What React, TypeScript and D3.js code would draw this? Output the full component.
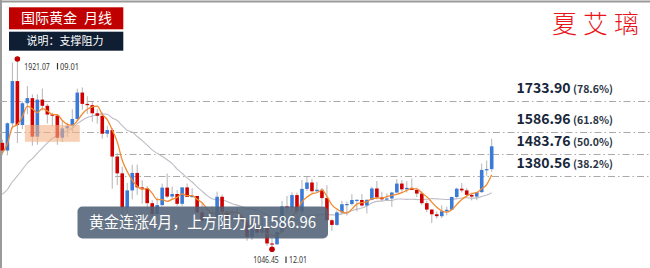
import React from 'react';
import * as d3 from 'd3';

// Monthly candles, Jun 2011 – Aug 2019
const months = [
  '2011-06','2011-07','2011-08','2011-09','2011-10','2011-11','2011-12',
  '2012-01','2012-02','2012-03','2012-04','2012-05','2012-06','2012-07','2012-08','2012-09','2012-10','2012-11','2012-12',
  '2013-01','2013-02','2013-03','2013-04','2013-05','2013-06','2013-07','2013-08','2013-09','2013-10','2013-11','2013-12',
  '2014-01','2014-02','2014-03','2014-04','2014-05','2014-06','2014-07','2014-08','2014-09','2014-10','2014-11','2014-12',
  '2015-01','2015-02','2015-03','2015-04','2015-05','2015-06','2015-07','2015-08','2015-09','2015-10','2015-11','2015-12',
  '2016-01','2016-02','2016-03','2016-04','2016-05','2016-06','2016-07','2016-08','2016-09','2016-10','2016-11','2016-12',
  '2017-01','2017-02','2017-03','2017-04','2017-05','2017-06','2017-07','2017-08','2017-09','2017-10','2017-11','2017-12',
  '2018-01','2018-02','2018-03','2018-04','2018-05','2018-06','2018-07','2018-08','2018-09','2018-10','2018-11','2018-12',
  '2019-01','2019-02','2019-03','2019-04','2019-05','2019-06','2019-07','2019-08',
];

const opens = [
  1536,1500,1628,1826,1620,1722,1746,
  1565,1739,1710,1669,1664,1560,1604,1615,1648,1772,1719,1713,
  1675,1663,1579,1596,1472,1393,1234,1313,1395,1327,1323,1253,
  1202,1244,1326,1284,1296,1250,1327,1282,1287,1210,1171,1183,
  1184,1283,1213,1183,1184,1190,1172,1095,1132,1115,1142,1064,
  1060,1118,1238,1233,1291,1215,1320,1350,1309,1316,1277,1173,
  1151,1210,1248,1249,1268,1268,1242,1269,1322,1280,1271,1275,
  1303,1345,1318,1325,1315,1298,1253,1223,1201,1192,1215,1222,
  1282,1321,1313,1292,1284,1305,1409,1413,
];
const highs = [
  1552,1632,1913,1921.07,1730,1803,1764,
  1764,1791,1719,1678,1670,1640,1631,1694,1790,1796,1755,1727,
  1694,1679,1617,1606,1488,1424,1348,1434,1434,1361,1333,1267,
  1280,1345,1392,1331,1315,1328,1345,1323,1287,1255,1208,1239,
  1307,1294,1219,1224,1232,1205,1175,1170,1157,1191,1142,1088,
  1123,1263,1287,1304,1303,1362,1375,1367,1352,1325,1337,1180,
  1220,1264,1261,1295,1270,1296,1270,1331,1357,1306,1299,1307,
  1366,1361,1356,1369,1326,1309,1265,1225,1214,1243,1237,1284,
  1326,1347,1324,1302,1306,1439,1453,1555,
];
const lows = [
  1478,1478,1605,1535,1600,1670,1523,
  1527,1688,1627,1613,1527,1540,1564,1583,1644,1692,1672,1635,
  1626,1555,1562,1321,1338,1180,1207,1271,1292,1251,1227,1182,
  1202,1240,1277,1268,1240,1240,1281,1280,1206,1161,1131,1167,
  1167,1191,1142,1175,1170,1162,1077,1080,1098,1106,1052,1046.45,
  1058,1107,1208,1207,1199,1200,1310,1301,1303,1241,1171,1123,
  1147,1200,1195,1241,1214,1237,1205,1267,1271,1261,1265,1236,
  1302,1307,1303,1315,1282,1245,1211,1160,1180,1183,1196,1221,
  1276,1303,1281,1266,1267,1301,1382,1400,
];
const closes = [
  1500,1628,1826,1620,1722,1746,1565,
  1739,1710,1669,1664,1560,1604,1615,1648,1772,1719,1713,1675,
  1663,1579,1596,1472,1393,1234,1313,1395,1327,1323,1253,1202,
  1244,1326,1284,1296,1250,1327,1282,1287,1210,1171,1183,1184,
  1283,1213,1183,1184,1190,1172,1095,1132,1115,1142,1064,1060,
  1118,1238,1233,1291,1215,1320,1350,1309,1316,1277,1173,1151,
  1210,1248,1249,1268,1269,1242,1269,1322,1280,1271,1275,1303,
  1345,1318,1325,1315,1298,1253,1223,1201,1192,1215,1222,1282,
  1321,1313,1292,1284,1305,1409,1413,1520,
];

// Moving averages (orange MA5, grey MA20)
const ma5 = [
  1488,1531.8,1609.2,1622,1659.2,1708.4,1695.8,
  1678.4,1696.4,1685.8,1669.4,1668.4,1641.4,1622.4,1618.2,1639.8,1671.6,1693.4,1705.4,
  1708.4,1669.8,1645.2,1597,1540.6,1454.8,1401.6,1361.4,1332.4,1318.4,1322.2,1300,
  1269.8,1269.6,1261.8,1270.4,1280,1296.6,1287.8,1288.4,1271.2,1255.4,1226.6,1207,
  1206.2,1206.8,1209.2,1209.4,1210.6,1188.4,1164.8,1154.6,1140.8,1131.2,1109.6,1102.6,
  1099.8,1124.4,1142.6,1188,1219,1259.4,1281.8,1297,1302,1314.4,1285,1245.2,
  1225.4,1211.8,1206.2,1225.2,1248.8,1255.2,1259.4,1274,1276.4,1276.8,1283.4,1290.2,
  1294.8,1302.4,1313.2,1321.2,1320.2,1301.8,1282.8,1258,1233.4,1216.8,1210.6,1222.4,
  1246.4,1270.6,1286,1298.4,1303,1320.6,1340.6,1386.2,
];
const ma20 = [
  1294.9,1317.2,1353.7,1380.7,1410.9,1442.5,1461.8,
  1488.1,1511.4,1535.8,1556.6,1569.2,1581.5,1593,1604.4,1626.4,1641.9,1655.6,1661.6,
  1667.9,1671.9,1670.3,1652.6,1641.2,1616.8,1595.2,1586.7,1566.1,1546.7,1525.9,1502.8,
  1487,1473.1,1456.6,1439,1412.9,1393.3,1371.7,1352.3,1329.7,1309.3,1288.6,1274.2,
  1268.7,1267.7,1261.2,1250.6,1243.8,1236.2,1228.3,1224.8,1218.4,1209.2,1198.2,1186.4,
  1179.8,1175.3,1172.9,1173.1,1173.3,1180.8,1189.1,1195.4,1197,1200.2,1199.7,1198.1,
  1199.1,1202.9,1210.6,1217.4,1225.1,1230.1,1240.3,1253.4,1261.5,1263.2,1265.3,1265.9,
  1272.4,1272.3,1271,1271.3,1270.4,1269.2,1271.7,1274.2,1273.3,1271.7,1270.3,1271,
  1273.6,1277.2,1278.3,1276.4,1277.7,1284.6,1291.5,1302.3,
];

// Fibonacci retracement levels (low 1046.45 → high 1921.07)
const fibLevels = [1733.90, 1586.96, 1483.76, 1380.56];
const fibLabels = ['1733.90', '1586.96', '1483.76', '1380.56'];
const fibPct = ['(78.6%)', '(61.8%)', '(50.0%)', '(38.2%)'];

const highValue = 1921.07;
const highLabel = '1921.07';
const highDate = '09.01';
const lowValue = 1046.45;
const lowLabel = '1046.45';
const lowDate = '12.01';

// consolidation zone (months spanned, price range)
const zoneMonths = ['2011-10', '2012-09'];
const zonePrices = [1541, 1620];

const titleText = '国际黄金\u2002月线';
const subtitleText = '说明：支撑阻力';
const authorText = '夏艾璃';
const noteText = '黄金连涨4月，上方阻力见1586.96';

const W = 650;
const H = 268;
const UP = '#3a7bd8';
const DOWN = '#d00000';
const WICK = '#b4b4b4';
const CJK = '"Noto Sans CJK SC", "Noto Sans", sans-serif';
const SMALL = '"Noto Sans", "Open Sans", sans-serif';

export default function App() {
  const n = months.length;
  const x = d3.scaleLinear().domain([0, n - 1]).range([2.4, 491.7]);
  const y = d3.scaleLinear().domain([fibLevels[3], fibLevels[0]]).range([176, 100.7]);
  const bodyW = 3.6;
  const step = x(1) - x(0);

  const maLine = d3
    .line<number>()
    .x((_, i) => x(i))
    .y((d) => y(d))
    .curve(d3.curveMonotoneX);

  const fibStartX = [0, 0, 115, 115];
  const hiIdx = highs.indexOf(highValue);
  const loIdx = lows.indexOf(lowValue);
  const z0 = months.indexOf(zoneMonths[0]);
  const z1 = months.indexOf(zoneMonths[1]);

  return (
    <svg
      width={W}
      height={H}
      style={{ position: 'absolute', left: 0, top: 0, background: '#fff' }}
      xmlns="http://www.w3.org/2000/svg"
    >
      <rect x={0} y={0} width={W} height={H} fill="#fff" />
      {/* frame */}
      <line x1={0} y1={1.5} x2={W} y2={1.5} stroke="#9a9a9a" strokeWidth={2} />
      <line x1={1} y1={0} x2={1} y2={H} stroke="#9a9a9a" strokeWidth={2} />

      {/* fib lines */}
      {fibLevels.map((v, k) => (
        <line
          key={'fl' + k}
          x1={fibStartX[k]}
          x2={W}
          y1={Math.round(y(v)) + 0.5}
          y2={Math.round(y(v)) + 0.5}
          stroke="#aaaaaa"
          strokeWidth={1.2}
          strokeDasharray="7,3,1.5,3"
        />
      ))}

      {/* MA20 */}
      <path d={maLine(ma20) || ''} fill="none" stroke="#bdbdc6" strokeWidth={1.1} />

      {/* candles */}
      {months.map((m, i) => {
        const o = opens[i];
        const c = closes[i];
        const up = c >= o;
        const cx = x(i);
        const top = y(Math.max(o, c));
        const bot = y(Math.min(o, c));
        return (
          <g key={m}>
            <line x1={cx} x2={cx} y1={y(highs[i])} y2={y(lows[i])} stroke={WICK} strokeWidth={1} />
            <rect
              x={cx - bodyW / 2}
              y={top}
              width={bodyW}
              height={Math.max(1.2, bot - top)}
              fill={up ? UP : DOWN}
            />
          </g>
        );
      })}

      {/* MA5 */}
      <path d={maLine(ma5) || ''} fill="none" stroke="#f28a2e" strokeWidth={1.3} />

      {/* consolidation zone */}
      <rect
        x={x(z0) + step / 2}
        y={y(zonePrices[1])}
        width={x(z1) - x(z0)}
        height={y(zonePrices[0]) - y(zonePrices[1])}
        fill="#f4b183"
        opacity={0.6}
      />

      {/* high / low markers */}
      <circle cx={x(hiIdx)} cy={y(highValue) - 1.8} r={2.8} fill="#c00000" />
      <text x={24.3} y={69.5} fontSize={8.5} fill="#333" fontFamily={SMALL} textLength={25.5} lengthAdjust="spacingAndGlyphs">
        {highLabel}
      </text>
      <line x1={57.5} x2={57.5} y1={63} y2={69.5} stroke="#333" strokeWidth={1.2} />
      <text x={60} y={69.5} fontSize={8.5} fill="#333" fontFamily={SMALL} textLength={19} lengthAdjust="spacingAndGlyphs">
        {highDate}
      </text>

      <circle cx={x(loIdx)} cy={y(lowValue) + 2} r={2.8} fill="#c00000" />
      <text x={253.3} y={263} fontSize={8.5} fill="#333" fontFamily={SMALL} textLength={25.5} lengthAdjust="spacingAndGlyphs">
        {lowLabel}
      </text>
      <line x1={286} x2={286} y1={256.5} y2={263} stroke="#333" strokeWidth={1.2} />
      <text x={289} y={263} fontSize={8.5} fill="#333" fontFamily={SMALL} textLength={18} lengthAdjust="spacingAndGlyphs">
        {lowDate}
      </text>

      {/* fib labels */}
      {fibLevels.map((v, k) => (
        <g key={'ft' + k}>
          <text
            x={516.5}
            y={y(v) - 8}
            fontSize={14}
            fontWeight="bold"
            fill="#17263a"
            fontFamily={CJK}
          >
            {fibLabels[k]}
          </text>
          <text
            x={573}
            y={y(v) - 8}
            fontSize={10.5}
            fontWeight="bold"
            fill="#2a3444"
            fontFamily={CJK}
          >
            {fibPct[k]}
          </text>
        </g>
      ))}

      {/* note overlay */}
      <rect x={77.5} y={206.5} width={250.5} height={32} rx={5} fill="#506175" opacity={0.88} />
      <text x={89} y={227.5} fontSize={15.5} fill="#fff" fontFamily={CJK} textLength={227} lengthAdjust="spacingAndGlyphs">
        {noteText}
      </text>

      {/* title boxes */}
      <rect x={9} y={7.3} width={114.3} height={22} fill="#c00000" />
      <text x={66.5} y={23.3} fontSize={14} fill="#fff" textAnchor="middle" fontFamily={CJK}>
        {titleText}
      </text>
      <rect x={9} y={31.7} width={114.3} height={19} fill="#0f1e33" />
      <text x={65} y={45} fontSize={11} fill="#fff" textAnchor="middle" fontFamily={CJK}>
        {subtitleText}
      </text>

      {/* author */}
      <text
        x={552}
        y={33}
        fontSize={25}
        fill="#e8161b"
        letterSpacing={6}
        fontWeight={300}
        fontFamily={CJK}
      >
        {authorText}
      </text>
    </svg>
  );
}
